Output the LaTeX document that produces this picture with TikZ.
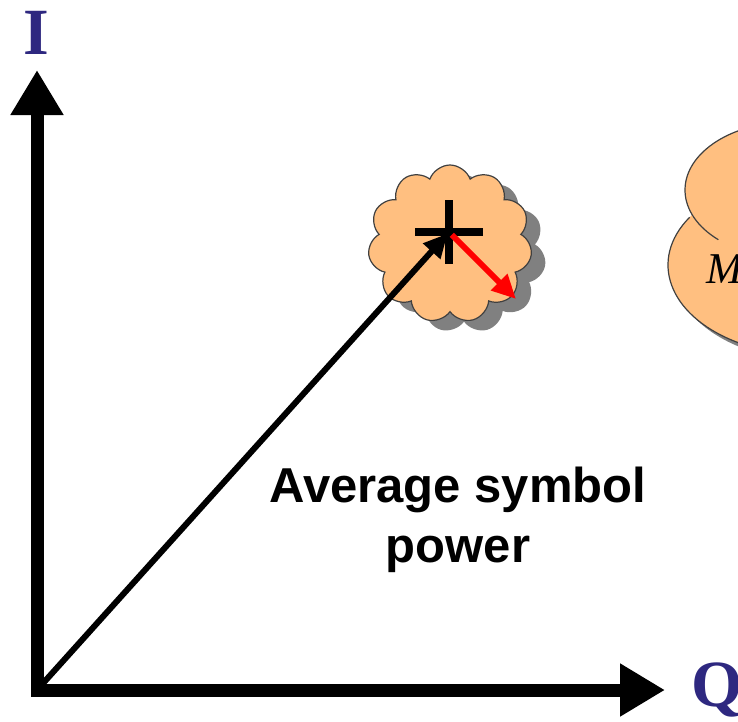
\documentclass[tikz,border=0pt]{standalone}
\usepackage{fontspec}
\setmainfont{Liberation Serif}
\setsansfont{Liberation Sans}
\usetikzlibrary{arrows.meta,shapes.symbols,shadows}
\definecolor{cloudfill}{RGB}{255,191,128}
\definecolor{axislabel}{RGB}{46,40,128}
\definecolor{shadowgray}{RGB}{128,128,128}

\begin{document}
\begin{tikzpicture}[x=1pt, y=-1pt,
      axis/.style={line width=13pt, line join=miter, {Triangle[length=45pt, width=50pt]}-{Triangle[length=45pt, width=50pt]}},
      axlabel/.style={text=axislabel, inner sep=0pt, font=\fontsize{66}{66}\selectfont\bfseries},
      vec/.style={line width=6pt, -{Triangle[length=24pt, width=22pt]}},
      cloudline/.style={draw=black!75, line width=1.2pt}]
    \useasboundingbox (0,0) rectangle (738,721);
    \coordinate (O) at (37,690);
    \coordinate (itip) at (37,70);
    \coordinate (qtip) at (665,690);
    \coordinate (pt) at (449,232);
    \coordinate (rtip) at (516,299);
    \coordinate (upc) at (790,190);
    \coordinate (lowc) at (810,265);
    % symbol cloud
    \node[cloud, cloud puffs=11, cloud puff arc=140, cloudline, fill=cloudfill, minimum width=164pt, minimum height=158pt,
      drop shadow={shadow xshift=14pt, shadow yshift=-10pt, fill=shadowgray, opacity=1}] (sym) at (450,244) {};
    \draw[line width=8pt] (pt) ++(-34,0) -- ++(68,0) (pt) ++(0,-32) -- ++(0,64);
    % big cloud, cut by the page edge
    \begin{scope}
      \clip (0,0) rectangle (738,721);
      \fill[shadowgray] ([shift={(6,6)}]upc) ellipse [x radius=105, y radius=68];
      \fill[shadowgray] ([shift={(6,6)}]lowc) ellipse [x radius=142, y radius=90];
      \fill[cloudfill] (upc) ellipse [x radius=105, y radius=68];
      \fill[cloudfill] (lowc) ellipse [x radius=142, y radius=90];
      \draw[cloudline] ([shift={(212:142 and 90)}]lowc) arc [start angle=212, end angle=60, x radius=142, y radius=90];
      \draw[cloudline] ([shift={(133:105 and 68)}]upc) arc [start angle=133, end angle=320, x radius=105, y radius=68];
      \node[anchor=base west, inner sep=0pt, font=\fontsize{44}{44}\selectfont\itshape] (mlab) at (706,283) {M};
      \node[axlabel, anchor=west] (qlab) at (691,690) {Q};
    \end{scope}
    % axes and vectors
    \draw[axis] (itip) -- (O) -- (qtip);
    \node[axlabel] (ilab) at (36,33) {I};
    \draw[vec, shorten >=2pt] (O) -- (pt);
    \draw[vec, red, shorten <=4pt] (pt) -- (rtip);
    \node[align=center, font=\sffamily\bfseries\fontsize{49}{60}\selectfont] (avg) at (458,520) {Average symbol\\power};
  \end{tikzpicture}
\end{document}
